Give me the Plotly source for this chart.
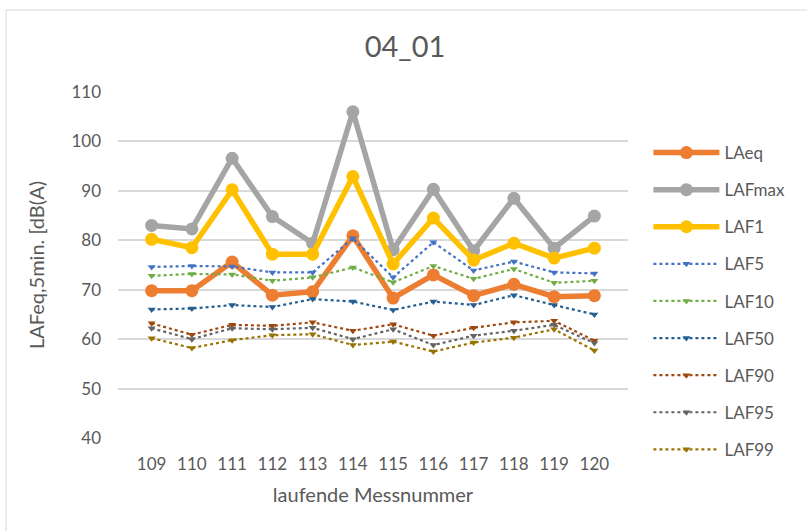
import plotly.graph_objects as go

messnummer = ['109', '110', '111', '112', '113', '114', '115', '116', '117', '118', '119', '120']

laeq = [69.8, 69.8, 75.6, 68.9, 69.6, 80.9, 68.3, 73.0, 68.8, 71.1, 68.6, 68.8]
lafmax = [83.0, 82.3, 96.6, 84.8, 79.4, 106.0, 78.1, 90.3, 77.9, 88.5, 78.4, 84.9]
laf1 = [80.2, 78.5, 90.2, 77.2, 77.2, 92.9, 75.2, 84.5, 76.0, 79.4, 76.4, 78.4]
laf5 = [74.6, 74.8, 74.7, 73.5, 73.5, 80.4, 72.5, 79.6, 73.9, 75.7, 73.5, 73.3]
laf10 = [72.8, 73.2, 73.1, 71.8, 72.5, 74.5, 71.5, 74.8, 72.2, 74.2, 71.4, 71.8]
laf50 = [66.0, 66.2, 66.9, 66.5, 68.1, 67.6, 65.9, 67.6, 66.9, 68.9, 66.9, 65.0]
laf90 = [63.2, 60.9, 62.9, 62.7, 63.4, 61.7, 63.0, 60.7, 62.3, 63.4, 63.7, 59.7]
laf95 = [62.2, 60.0, 62.2, 62.0, 62.3, 60.0, 62.0, 58.8, 60.7, 61.7, 62.9, 59.2]
laf99 = [60.2, 58.2, 59.8, 60.8, 61.0, 58.8, 59.5, 57.5, 59.3, 60.3, 62.0, 57.7]

font = 'Lato'
grey = '#595959'

thick = [
    ('LAeq', laeq, '#ED7D31'),
    ('LAFmax', lafmax, '#A5A5A5'),
    ('LAF1', laf1, '#FFC000'),
]
thin = [
    ('LAF5', laf5, '#4472C4'),
    ('LAF10', laf10, '#70AD47'),
    ('LAF50', laf50, '#255E91'),
    ('LAF90', laf90, '#9E480E'),
    ('LAF95', laf95, '#636363'),
    ('LAF99', laf99, '#997300'),
]

fig = go.Figure()
for name, vals, col in thick:
    fig.add_trace(go.Scatter(
        x=messnummer, y=vals, name=name, legendgroup=name, mode='lines+markers',
        line=dict(color=col, width=5.5),
        marker=dict(color=col, size=13, symbol='circle')
    ))
for name, vals, col in thin:
    fig.add_trace(go.Scatter(
        x=messnummer, y=vals, name=name, legendgroup=name, mode='lines+markers',
        line=dict(color=col, width=2.2, dash='dot'),
        marker=dict(color=col, size=7, symbol='triangle-down')
    ))

# outer chart border like the Excel chart area
W, L, PW = 807, 118, 510
T, B, PH = 92, 438, 346
fig.add_shape(type='rect', xref='paper', yref='paper',
              x0=(6 - L) / PW, x1=(812 - L) / PW,
              y0=(B - 540) / PH, y1=(B - 10) / PH,
              line=dict(color='#D9D9D9', width=1), layer='below')

fig.update_layout(
    width=807, height=531,
    margin=dict(l=L, r=W - L - PW, t=T, b=531 - B, autoexpand=False),
    paper_bgcolor='white', plot_bgcolor='white',
    font=dict(family=font, color=grey),
    title=dict(text='04_01', x=405 / W, xanchor='center', y=1 - 47 / 531,
               yanchor='middle', font=dict(size=29, color=grey)),
    xaxis=dict(
        title=dict(text='laufende Messnummer', font=dict(size=20, color=grey), standoff=14),
        tickfont=dict(size=17, color=grey), showgrid=False, showline=False,
        ticks='', type='category', ticklabelstandoff=14, automargin=False
    ),
    yaxis=dict(
        title=dict(text='LAFeq,5min. [dB(A)', font=dict(size=20, color=grey), standoff=21),
        range=[40, 110], dtick=10, tickfont=dict(size=17, color=grey),
        gridcolor='#D9D9D9', gridwidth=1.5, zeroline=False, showline=False, ticks='',
        ticklabelstandoff=16, automargin=False
    ),
    legend=dict(
        x=1.04, y=(B - 135) / PH, xanchor='left', yanchor='top',
        font=dict(size=17, color=grey), itemwidth=66, tracegroupgap=12,
        bgcolor='rgba(0,0,0,0)'
    ),
    showlegend=True
)

fig.write_html('out.html', config={'displayModeBar': False},
               post_script="document.body.style.margin='0';")
